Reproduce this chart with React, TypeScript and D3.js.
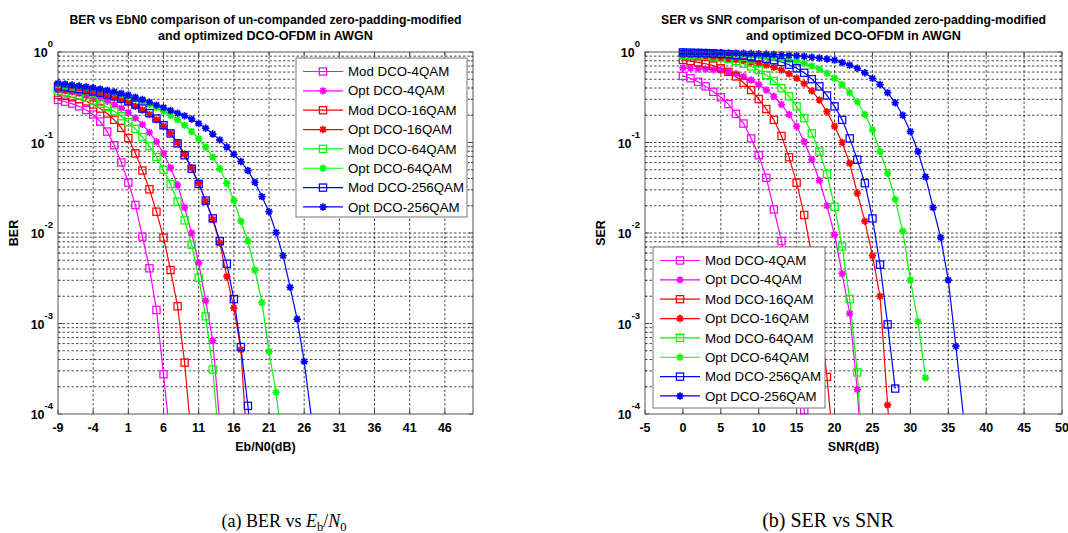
import React from "react";
import * as d3 from "d3";

// ---------- BER vs Eb/N0 (points every 1 dB starting at -9 dB) ----------
const ebn0Start = -9;
const berMod4 = [0.295, 0.282, 0.269, 0.251, 0.229, 0.204, 0.17, 0.132, 0.0933, 0.0603, 0.036, 0.0204, 0.00912, 0.00407, 0.00141, 0.000275, 0.00005];
const berOpt4 = [0.38, 0.3715, 0.363, 0.351, 0.339, 0.324, 0.3055, 0.285, 0.263, 0.24, 0.214, 0.186, 0.1585, 0.129, 0.102, 0.0759, 0.0525, 0.0339, 0.0191, 0.01, 0.00468, 0.00178, 0.000646, 0.0000794];
const berMod16 = [0.335, 0.327, 0.316, 0.302, 0.285, 0.263, 0.237, 0.209, 0.178, 0.145, 0.112, 0.0759, 0.049, 0.0304, 0.0172, 0.0089, 0.0039, 0.00155, 0.00037, 0.00005];
const berOpt16 = [0.422, 0.412, 0.403, 0.394, 0.38, 0.367, 0.351, 0.335, 0.316, 0.295, 0.275, 0.251, 0.229, 0.204, 0.178, 0.151, 0.126, 0.1, 0.0741, 0.0525, 0.0355, 0.0224, 0.0141, 0.00776, 0.00331, 0.00148, 0.000513, 0.0000316];
const berMod64 = [0.3715, 0.359, 0.347, 0.331, 0.3126, 0.2917, 0.269, 0.2455, 0.2213, 0.195, 0.168, 0.1413, 0.1148, 0.0912, 0.0692, 0.0501, 0.0348, 0.0222, 0.0138, 0.0074, 0.0032, 0.0012, 0.00031, 0.00004];
const berOpt64 = [0.442, 0.437, 0.427, 0.417, 0.407, 0.398, 0.385, 0.372, 0.355, 0.339, 0.32, 0.302, 0.282, 0.263, 0.243, 0.221, 0.2, 0.178, 0.155, 0.132, 0.11, 0.0891, 0.0692, 0.0513, 0.0355, 0.0229, 0.0135, 0.00813, 0.00389, 0.0017, 0.00049, 0.000174, 0.0000398];
const berMod256 = [0.417, 0.407, 0.398, 0.389, 0.38, 0.367, 0.355, 0.339, 0.324, 0.305, 0.285, 0.263, 0.237, 0.211, 0.184, 0.155, 0.126, 0.0977, 0.0724, 0.0513, 0.0348, 0.0228, 0.0145, 0.00813, 0.00457, 0.00186, 0.00055, 0.000123, 0.00002];
const berOpt256 = [0.451, 0.442, 0.432, 0.422, 0.412, 0.403, 0.389, 0.376, 0.363, 0.349, 0.335, 0.316, 0.299, 0.279, 0.259, 0.243, 0.226, 0.211, 0.197, 0.182, 0.162, 0.144, 0.124, 0.107, 0.0891, 0.0741, 0.0617, 0.049, 0.0363, 0.0252, 0.0172, 0.0101, 0.00562, 0.00251, 0.00112, 0.00038, 0.0000955, 0.00002];

// ---------- SER vs SNR (points every 1 dB starting at 0 dB) ----------
const snrStart = 0;
const serMod4 = [0.543, 0.513, 0.468, 0.417, 0.363, 0.316, 0.266, 0.207, 0.162, 0.111, 0.0724, 0.0407, 0.0182, 0.00813, 0.00282, 0.000708, 0.00011, 0.00001];
const serOpt4 = [0.668, 0.661, 0.653, 0.646, 0.635, 0.624, 0.603, 0.575, 0.537, 0.49, 0.437, 0.38, 0.324, 0.263, 0.204, 0.151, 0.102, 0.0646, 0.038, 0.02, 0.00955, 0.00355, 0.00129, 0.000186, 0.00001];
const serMod16 = [0.817, 0.794, 0.767, 0.741, 0.708, 0.661, 0.603, 0.537, 0.457, 0.38, 0.302, 0.234, 0.178, 0.118, 0.0686, 0.036, 0.0158, 0.00562, 0.00141, 0.000257, 0.0000316];
const serOpt16 = [0.891, 0.885, 0.879, 0.871, 0.861, 0.851, 0.838, 0.822, 0.804, 0.776, 0.75, 0.716, 0.676, 0.631, 0.575, 0.513, 0.447, 0.372, 0.295, 0.219, 0.151, 0.1, 0.0589, 0.0275, 0.0135, 0.00562, 0.002, 0.000126, 0.00001];
const serMod64 = [0.933, 0.927, 0.918, 0.908, 0.891, 0.867, 0.836, 0.794, 0.741, 0.692, 0.631, 0.556, 0.479, 0.398, 0.324, 0.251, 0.186, 0.126, 0.0794, 0.0447, 0.0195, 0.00708, 0.00186, 0.000288, 0.0000126];
const serOpt64 = [0.977, 0.975, 0.973, 0.968, 0.964, 0.959, 0.953, 0.944, 0.933, 0.923, 0.908, 0.891, 0.871, 0.847, 0.822, 0.794, 0.75, 0.7, 0.646, 0.582, 0.513, 0.437, 0.355, 0.282, 0.204, 0.138, 0.0794, 0.0457, 0.0234, 0.0105, 0.00302, 0.00105, 0.000251];
const serMod256 = [0.989, 0.984, 0.979, 0.973, 0.966, 0.955, 0.944, 0.929, 0.912, 0.891, 0.867, 0.841, 0.813, 0.776, 0.724, 0.661, 0.589, 0.501, 0.417, 0.331, 0.251, 0.178, 0.111, 0.0646, 0.0355, 0.0145, 0.00447, 0.000977, 0.000191];
const serOpt256 = [0.993, 0.991, 0.989, 0.986, 0.984, 0.982, 0.977, 0.973, 0.968, 0.964, 0.957, 0.951, 0.942, 0.933, 0.923, 0.91, 0.895, 0.877, 0.857, 0.836, 0.813, 0.767, 0.716, 0.661, 0.589, 0.513, 0.437, 0.355, 0.275, 0.2, 0.132, 0.0794, 0.0417, 0.0191, 0.00891, 0.00302, 0.000562, 0.000095, 0.00001];

const seriesNames = ["Mod DCO-4QAM", "Opt DCO-4QAM", "Mod DCO-16QAM", "Opt DCO-16QAM", "Mod DCO-64QAM", "Opt DCO-64QAM", "Mod DCO-256QAM", "Opt DCO-256QAM"];
const seriesColors = ["#ff00ff", "#ff00ff", "#ff0000", "#ff0000", "#00ff00", "#00ff00", "#0000ff", "#0000ff"];
const seriesMarkers: ("square" | "star")[] = ["square", "star", "square", "star", "square", "star", "square", "star"];

const berSeries = [berMod4, berOpt4, berMod16, berOpt16, berMod64, berOpt64, berMod256, berOpt256];
const serSeries = [serMod4, serOpt4, serMod16, serOpt16, serMod64, serOpt64, serMod256, serOpt256];

const berTicks = [-9, -4, 1, 6, 11, 16, 21, 26, 31, 36, 41, 46];
const serTicks = [-5, 0, 5, 10, 15, 20, 25, 30, 35, 40, 45, 50];
const decadeTicks = [1e-4, 1e-3, 1e-2, 1e-1, 1];

const FONT = "'Liberation Sans', Arial, Helvetica, sans-serif";

function Marker({ kind, x, y, color }: { kind: "square" | "star"; x: number; y: number; color: string }) {
  if (kind === "square") {
    return <rect x={x - 3.6} y={y - 3.6} width={7.2} height={7.2} fill="none" stroke={color} strokeWidth={1.25} />;
  }
  const r = 3.7;
  const d = r * 0.72;
  return (
    <path
      d={`M${x - r},${y}H${x + r}M${x},${y - r}V${y + r}M${x - d},${y - d}L${x + d},${y + d}M${x - d},${y + d}L${x + d},${y - d}`}
      stroke={color}
      strokeWidth={1.7}
      fill="none"
    />
  );
}

type PanelProps = {
  id: string;
  left: number;
  right: number;
  top: number;
  bottom: number;
  xDomain: [number, number];
  xTicks: number[];
  xStart: number;
  data: number[][];
  titleLines: [string, string];
  titleWidths: [number, number];
  xLabel: string;
  yLabel: string;
  yLabelX: number;
  legend: { x: number; y: number; w: number; h: number };
};

function Panel(p: PanelProps) {
  const x = d3.scaleLinear().domain(p.xDomain).range([p.left, p.right]);
  const y = d3.scaleLog().domain([1e-4, 1]).range([p.bottom, p.top]);
  const cx = (p.left + p.right) / 2;

  const minor: number[] = [];
  for (let e = -4; e < 0; e++) for (let m = 2; m <= 9; m++) minor.push(m * Math.pow(10, e));

  const line = d3
    .line<number>()
    .x((_, i) => x(p.xStart + i))
    .y((v) => y(v));

  const grid = { stroke: "#111", strokeWidth: 0.75, strokeDasharray: "2.5,2" };

  return (
    <g>
      <defs>
        <clipPath id={p.id}>
          <rect x={p.left} y={p.top} width={p.right - p.left} height={p.bottom - p.top} />
        </clipPath>
      </defs>
      <rect x={p.left} y={p.top} width={p.right - p.left} height={p.bottom - p.top} fill="#fff" />
      {/* grid */}
      {p.xTicks
        .filter((t) => x(t) > p.left + 1 && x(t) < p.right - 1)
        .map((t) => (
          <line key={"gx" + t} x1={x(t)} x2={x(t)} y1={p.top} y2={p.bottom} {...grid} />
        ))}
      {[...decadeTicks.slice(1, -1), ...minor].map((v) => (
        <line key={"gy" + v} x1={p.left} x2={p.right} y1={y(v)} y2={y(v)} {...grid} />
      ))}
      {/* ticks */}
      {p.xTicks.map((t) => (
        <g key={"tx" + t}>
          <line x1={x(t)} x2={x(t)} y1={p.bottom} y2={p.bottom - 4} stroke="#444" />
          <line x1={x(t)} x2={x(t)} y1={p.top} y2={p.top + 4} stroke="#444" />
          <text x={x(t)} y={p.bottom + 18} textAnchor="middle" fontFamily={FONT} fontWeight="bold" fontSize={12.5} fill="#000">
            {t}
          </text>
        </g>
      ))}
      {decadeTicks.map((v) => (
        <g key={"ty" + v}>
          <line x1={p.left} x2={p.left + 4} y1={y(v)} y2={y(v)} stroke="#444" />
          <line x1={p.right} x2={p.right - 4} y1={y(v)} y2={y(v)} stroke="#444" />
          <text x={p.left - 5} y={y(v) + 5} textAnchor="end" fontFamily={FONT} fontWeight="bold" fontSize={12.5} fill="#000">
            10
            <tspan dy={-10} fontSize={9.5}>
              {Math.round(Math.log10(v))}
            </tspan>
          </text>
        </g>
      ))}
      {minor.map((v) => (
        <g key={"my" + v}>
          <line x1={p.left} x2={p.left + 2} y1={y(v)} y2={y(v)} stroke="#444" />
          <line x1={p.right} x2={p.right - 2} y1={y(v)} y2={y(v)} stroke="#444" />
        </g>
      ))}
      {/* curves */}
      <g clipPath={`url(#${p.id})`}>
        {p.data.map((vals, k) => (
          <path key={"l" + k} d={line(vals) || ""} fill="none" stroke={seriesColors[k]} strokeWidth={1.2} />
        ))}
      </g>
      {p.data.map((vals, k) => (
        <g key={"m" + k}>
          {vals.map((v, i) =>
            v >= 1e-4 && v <= 1 ? <Marker key={i} kind={seriesMarkers[k]} x={x(p.xStart + i)} y={y(v)} color={seriesColors[k]} /> : null
          )}
        </g>
      ))}
      {/* frame */}
      <rect x={p.left} y={p.top} width={p.right - p.left} height={p.bottom - p.top} fill="none" stroke="#555" strokeWidth={1} />
      {/* legend */}
      <rect x={p.legend.x} y={p.legend.y} width={p.legend.w} height={p.legend.h} fill="#fff" stroke="#777" strokeWidth={1} />
      {seriesNames.map((name, k) => {
        const ry = p.legend.y + 13.5 + k * 19.35;
        return (
          <g key={"lg" + k}>
            <line x1={p.legend.x + 7} x2={p.legend.x + 47} y1={ry} y2={ry} stroke={seriesColors[k]} strokeWidth={1.2} />
            <Marker kind={seriesMarkers[k]} x={p.legend.x + 27} y={ry} color={seriesColors[k]} />
            <text x={p.legend.x + 52} y={ry + 4.6} fontFamily={FONT} fontSize={13.3} fill="#000">
              {name}
            </text>
          </g>
        );
      })}
      {/* titles and labels */}
      <text x={cx} y={24} textAnchor="middle" fontFamily={FONT} fontWeight="bold" fontSize={12} textLength={p.titleWidths[0]} lengthAdjust="spacingAndGlyphs">
        {p.titleLines[0]}
      </text>
      <text x={cx} y={40} textAnchor="middle" fontFamily={FONT} fontWeight="bold" fontSize={12} textLength={p.titleWidths[1]} lengthAdjust="spacingAndGlyphs">
        {p.titleLines[1]}
      </text>
      <text x={cx} y={p.bottom + 37} textAnchor="middle" fontFamily={FONT} fontWeight="bold" fontSize={12.5}>
        {p.xLabel}
      </text>
      <text
        transform={`translate(${p.yLabelX},${(p.top + p.bottom) / 2}) rotate(-90)`}
        textAnchor="middle"
        fontFamily={FONT}
        fontWeight="bold"
        fontSize={12.5}
      >
        {p.yLabel}
      </text>
    </g>
  );
}

export default function App() {
  const serif = "'Liberation Serif', 'Times New Roman', serif";
  return (
    <svg width={1068} height={533} style={{ position: "absolute", left: 0, top: 0, background: "#fff" }}>
      <rect width={1068} height={533} fill="#fff" />
      <Panel
        id="clipBer"
        left={58}
        right={473}
        top={52}
        bottom={414}
        xDomain={[-9, 50]}
        xTicks={berTicks}
        xStart={ebn0Start}
        data={berSeries}
        titleLines={["BER vs EbN0 comparison of un-companded zero-padding-modified", "and optimized DCO-OFDM in AWGN"]}
        titleWidths={[392, 215]}
        xLabel="Eb/N0(dB)"
        yLabel="BER"
        yLabelX={18}
        legend={{ x: 296, y: 58, w: 171, h: 159 }}
      />
      <Panel
        id="clipSer"
        left={645}
        right={1062}
        top={52}
        bottom={414}
        xDomain={[-5, 50]}
        xTicks={serTicks}
        xStart={snrStart}
        data={serSeries}
        titleLines={["SER vs SNR comparison of un-companded zero-padding-modified", "and optimized DCO-OFDM in AWGN"]}
        titleWidths={[385, 215]}
        xLabel="SNR(dB)"
        yLabel="SER"
        yLabelX={605}
        legend={{ x: 653, y: 247, w: 172, h: 161 }}
      />
      <text x={284} y={527} textAnchor="middle" fontFamily={serif} fontSize={18} fill="#000">
        (a) BER vs <tspan fontStyle="italic">E</tspan>
        <tspan fontSize={12.5} dy={4}>b</tspan>
        <tspan dy={-4}>/</tspan>
        <tspan fontStyle="italic">N</tspan>
        <tspan fontSize={12.5} dy={4}>0</tspan>
      </text>
      <text x={828} y={527} textAnchor="middle" fontFamily={serif} fontSize={20} fill="#000">
        (b) SER vs SNR
      </text>
    </svg>
  );
}
